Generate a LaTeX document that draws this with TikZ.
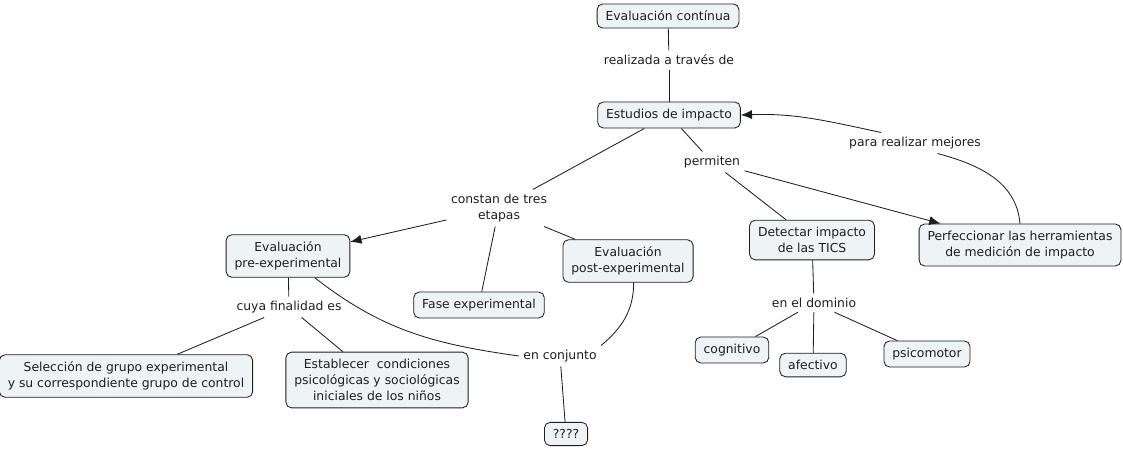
\documentclass[tikz,border=0pt]{standalone}
\usepackage{fontspec}
\setmainfont{DejaVu Sans}
\usepackage{tikz}
\usetikzlibrary{arrows.meta, positioning}
\definecolor{boxfill}{HTML}{EEF3F5}
\definecolor{inkline}{HTML}{1E1E1E}

\begin{document}
\begin{tikzpicture}[x=0.025cm, y=-0.025cm,
    concept/.style={draw=inkline, fill=boxfill, rounded corners=4pt, align=center,
        inner xsep=6pt, inner ysep=5pt, line width=0.6pt, text=inkline,
        font=\fontsize{8.8}{11.4}\selectfont},
    linkword/.style={align=center, inner sep=3pt, text=inkline,
        font=\fontsize{8.8}{11.4}\selectfont},
    link/.style={draw=inkline, line width=0.6pt},
    linkto/.style={link, -{Latex[length=8pt, width=6.5pt]}}]

\useasboundingbox (0,0) rectangle (1123,449);

% Concepts
\node[concept] (continua)  at (668,16)  {Evaluación contínua};
\node[concept] (estudios)  at (669,115) {Estudios de impacto};
\node[concept] (evalpre)   at (288,256) {Evaluación\\pre-experimental};
\node[concept] (fase)      at (479,305) {Fase experimental};
\node[concept] (evalpost)  at (628,261) {Evaluación\\post-experimental};
\node[concept] (detectar)  at (812,240) {Detectar impacto\\de las TICS};
\node[concept] (perfecc)   at (1020,245) {Perfeccionar las herramientas\\de medición de impacto};
\node[concept] (seleccion) at (126,376) {Selección de grupo experimental\\y su correspondiente grupo de control};
\node[concept] (establecer) at (377,380) {Establecer\ \ condiciones\\psicológicas y sociológicas\\iniciales de los niños};
\node[concept] (incognita) at (566,434) {????};
\node[concept] (cognitivo) at (732,350) {cognitivo};
\node[concept] (afectivo)  at (813,365) {afectivo};
\node[concept] (psicomotor) at (927,354) {psicomotor};

% Linking phrases
\node[linkword] (realizada) at (669,60)  {realizada a través de};
\node[linkword] (constan)   at (499,208) {constan de tres\\etapas};
\node[linkword] (permiten)  at (712,162) {permiten};
\node[linkword] (mejores)   at (915,143) {para realizar mejores};
\node[linkword] (cuya)      at (289,307) {cuya finalidad es};
\node[linkword] (conjunto)  at (560,356) {en conjunto};
\node[linkword] (dominio)   at (814,303) {en el dominio};

% Connectors
\draw[link] (continua) -- (realizada);
\draw[link] (realizada) -- (estudios);
\draw[link] (estudios) -- (constan);
\draw[link] (estudios) -- (permiten);
\draw[linkto] (constan) -- (evalpre);
\draw[link] (constan) -- (fase);
\draw[link] (constan) -- (evalpost);
\draw[link] (permiten) -- (detectar);
\draw[linkto] (permiten) -- (perfecc);
\draw[link] (perfecc.north) to[out=95, in=-15] ([xshift=16pt]mejores.south);
\draw[linkto] ([xshift=-24pt]mejores.north) to[out=168, in=2] (estudios.east);
\draw[link] (evalpre) -- (cuya);
\draw[link] (cuya) -- (seleccion);
\draw[link] (cuya) -- (establecer);
\draw[link] ([xshift=19pt]evalpre.south) to[out=-38, in=172] (conjunto.west);
\draw[link] ([xshift=4pt]evalpost.south) to[out=-90, in=40] (conjunto.north east);
\draw[link] (conjunto) -- (incognita);
\draw[link] (detectar) -- (dominio);
\draw[link] (dominio) -- (cognitivo);
\draw[link] (dominio) -- (afectivo);
\draw[link] (dominio) -- (psicomotor);
\end{tikzpicture}
\end{document}
